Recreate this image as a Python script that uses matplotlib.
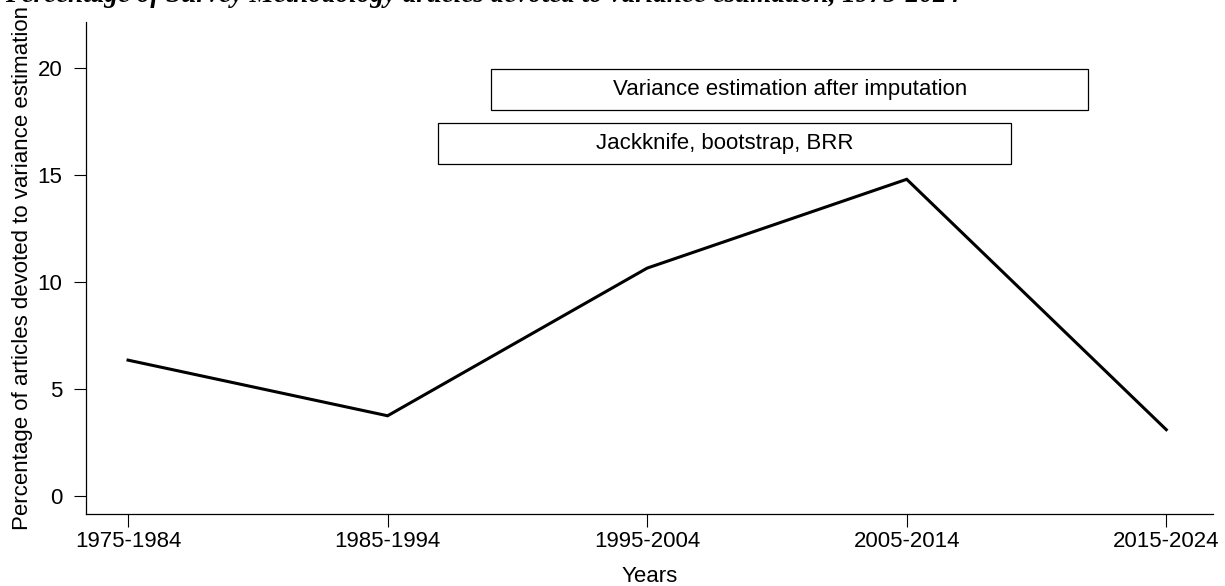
import matplotlib
matplotlib.use("Agg")
import matplotlib.pyplot as plt
from matplotlib.patches import Rectangle

# decades and share of articles on variance estimation (%)
periods = ['1975-1984', '1985-1994', '1995-2004', '2005-2014', '2015-2024']
pct = [6.35, 3.75, 10.65, 14.8, 3.1]

# annotation boxes: label, x-start, x-end, y-bottom, y-top (in axis units)
box_labels = ['Variance estimation after imputation', 'Jackknife, bootstrap, BRR']
box_x0 = [1.40, 1.195]
box_x1 = [3.70, 3.40]
box_y0 = [18.05, 15.5]
box_y1 = [19.95, 17.45]

plt.rcParams['font.family'] = ['Liberation Sans', 'DejaVu Sans']
fs = 16

fig = plt.figure(figsize=(12.25, 5.86), dpi=100)
ax = fig.add_axes([86/1225, (586-514)/586, (1213-86)/1225, (514-22)/586])

x = list(range(len(periods)))
ax.plot(x, pct, color='black', lw=2.2, solid_joinstyle='miter')

for lab, a, b, c, d in zip(box_labels, box_x0, box_x1, box_y0, box_y1):
    ax.add_patch(Rectangle((a, c), b - a, d - c, fill=False, ec='black', lw=0.9))
    ax.text((a + b) / 2, (c + d) / 2, lab, ha='center', va='center', fontsize=fs)

ax.set_xlim(-0.162, 4.18)
ax.set_ylim(-0.84, 22.15)
ax.set_xticks(x)
ax.set_xticklabels(periods)
ax.set_yticks([0, 5, 10, 15, 20])
ax.tick_params(axis='both', labelsize=fs, length=9, width=0.8, direction='out')
ax.tick_params(axis='x', pad=3)
ax.tick_params(axis='y', pad=8)
ax.spines['top'].set_visible(False)
ax.spines['right'].set_visible(False)
ax.spines['left'].set_linewidth(0.9)
ax.spines['bottom'].set_linewidth(0.9)

ax.set_xlabel('Years', fontsize=fs, labelpad=10)
ax.set_ylabel('Percentage of articles devoted to variance estimation', fontsize=fs, labelpad=3)

# title sits mostly above the cropped image, only its lower edge shows
fig.text(5/1225, 1 - 2/586, 'Percentage of Survey Methodology articles devoted to variance estimation, 1975-2024',
         ha='left', va='baseline', fontsize=19.5, fontweight='bold', style='italic',
         family=['Liberation Serif'])

fig.savefig('out.png', dpi=100)
